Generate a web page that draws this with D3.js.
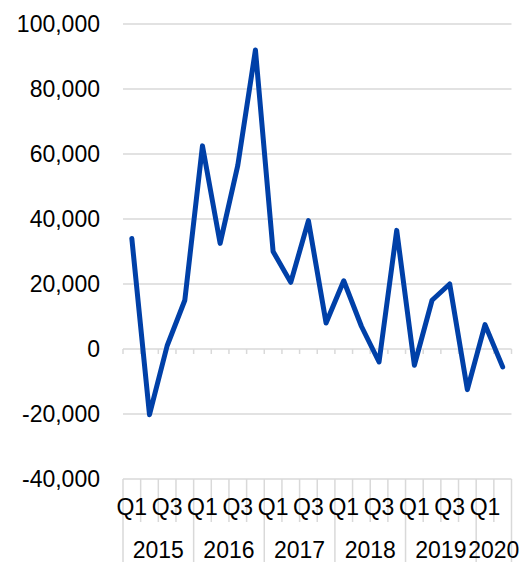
<!DOCTYPE html>
<html>
<head>
<meta charset="utf-8">
<script src="https://cdn.jsdelivr.net/npm/d3@7"></script>
<style>
  html, body { margin: 0; padding: 0; background: #fff; }
  svg { display: block; font-family: "Liberation Sans", Arial, sans-serif; }
</style>
</head>
<body>
<svg id="chart" width="523" height="562"></svg>
<script>
// Quarterly series, 2015 Q1 – 2020 Q2
const years = ["2015", "2016", "2017", "2018", "2019", "2020"];
const quarters = ["Q1", "Q2", "Q3", "Q4"];
const quartersPerYear = [4, 4, 4, 4, 4, 2];
const values = [
  34000, -20200, 1000, 15000,
  62500, 32500, 56500, 92000,
  30000, 20500, 39500, 8000,
  21000, 7000, -4000, 36500,
  -5000, 15000, 20000, -12500,
  7500, -5500
];
const yTicks = [-40000, -20000, 0, 20000, 40000, 60000, 80000, 100000];

// Build category list (year/quarter pairs)
const cats = [];
years.forEach((yr, i) => {
  for (let q = 0; q < quartersPerYear[i]; q++) cats.push({ year: yr, q: quarters[q], key: yr + "-" + quarters[q] });
});

const svg = d3.select("#chart");
const plotLeft = 123, plotRight = 511.5, plotTop = 24, plotBottom = 479;

const x = d3.scaleBand().domain(cats.map(d => d.key)).range([plotLeft, plotRight]).paddingInner(0).paddingOuter(0);
const y = d3.scaleLinear().domain([-40000, 100000]).range([plotBottom, plotTop]);

const grid = "#d9d9d9";
const fontSize = 23;

// Horizontal gridlines
svg.append("g").selectAll("line").data(yTicks).join("line")
  .attr("x1", plotLeft).attr("x2", plotRight)
  .attr("y1", d => y(d)).attr("y2", d => y(d))
  .attr("stroke", grid).attr("stroke-width", 1.5);

// Y axis labels (plain hyphen for negatives)
const fmt = d3.format(",");
svg.append("g").selectAll("text").data(yTicks).join("text")
  .attr("x", 100).attr("y", d => y(d)).attr("dy", "0.35em")
  .attr("text-anchor", "end").attr("font-size", fontSize).attr("fill", "#000")
  .text(d => fmt(d).replace("\u2212", "-"));

// Zero line tick marks at category boundaries
const boundaries = cats.map(d => x(d.key)).concat([plotRight]);
svg.append("g").selectAll("line").data(boundaries).join("line")
  .attr("x1", d => d).attr("x2", d => d)
  .attr("y1", y(0)).attr("y2", y(0) + 5)
  .attr("stroke", grid).attr("stroke-width", 1.5);

// Bottom category axis: quarter separators and year separators
const yearStarts = [];
let idx = 0;
quartersPerYear.forEach(n => { yearStarts.push(idx); idx += n; });
const yearBoundaries = yearStarts.map(i => x(cats[i].key)).concat([plotRight]);

svg.append("g").selectAll("line").data(boundaries.filter(b => !yearBoundaries.includes(b))).join("line")
  .attr("x1", d => d).attr("x2", d => d)
  .attr("y1", plotBottom).attr("y2", 522)
  .attr("stroke", grid).attr("stroke-width", 1.5);

svg.append("g").selectAll("line").data(yearBoundaries).join("line")
  .attr("x1", d => d).attr("x2", d => d)
  .attr("y1", plotBottom).attr("y2", 562)
  .attr("stroke", grid).attr("stroke-width", 1.5);

// Quarter labels (every other quarter)
svg.append("g").selectAll("text").data(cats.filter((d, i) => i % 2 === 0)).join("text")
  .attr("x", d => x(d.key) + x.bandwidth() / 2).attr("y", 515)
  .attr("text-anchor", "middle").attr("font-size", fontSize).attr("fill", "#000")
  .text(d => d.q);

// Year labels centred on their span
svg.append("g").selectAll("text").data(years).join("text")
  .attr("x", (d, i) => (yearBoundaries[i] + yearBoundaries[i + 1]) / 2)
  .attr("y", 558)
  .attr("text-anchor", "middle").attr("font-size", fontSize).attr("fill", "#000")
  .text(d => d);

// Data line
const line = d3.line()
  .x((d, i) => x(cats[i].key) + x.bandwidth() / 2)
  .y(d => y(d));

svg.append("path").datum(values)
  .attr("d", line)
  .attr("fill", "none")
  .attr("stroke", "#0040A8")
  .attr("stroke-width", 5)
  .attr("stroke-linejoin", "round")
  .attr("stroke-linecap", "round");
</script>
</body>
</html>
